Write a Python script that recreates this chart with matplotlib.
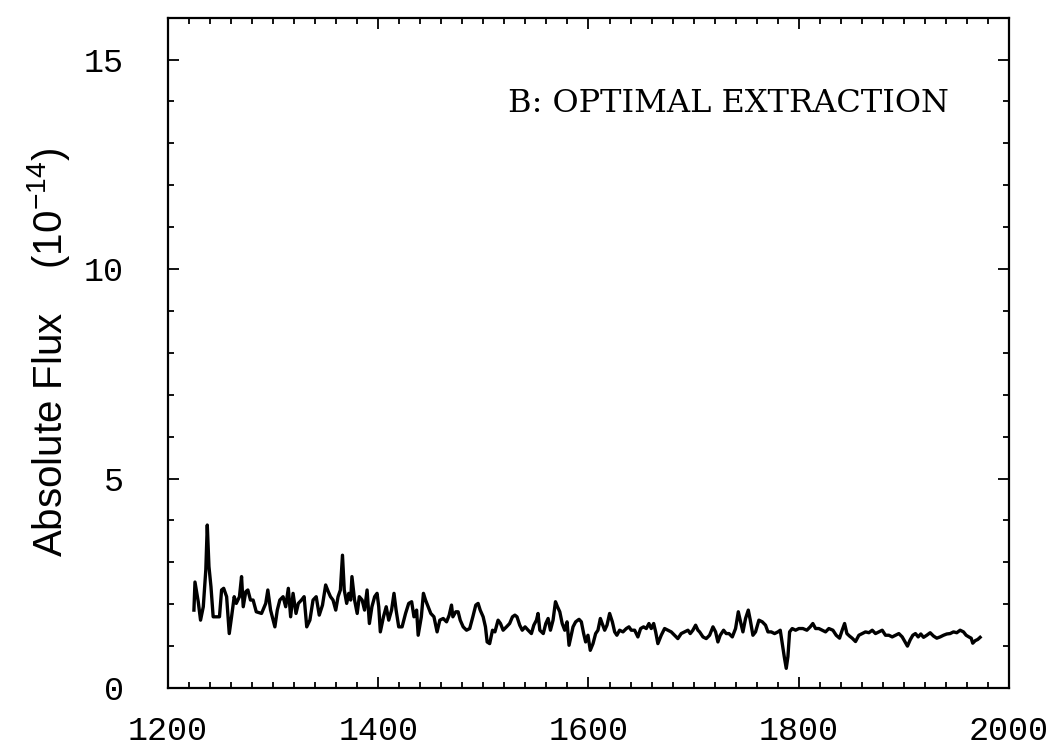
import matplotlib
matplotlib.use("Agg")
import matplotlib.pyplot as plt
from matplotlib.ticker import MultipleLocator

# wavelength (Angstrom) and flux (1e-14) of the extracted spectrum
wave = [
    1224.7, 1225.7, 1228.8, 1231.0, 1233.6, 1236.0, 1237.4, 1239.0, 1240.9, 1243.0,
    1246.0, 1249.0, 1251.0, 1253.0, 1255.8, 1258.3, 1260.5, 1263.0, 1265.0, 1268.0,
    1270.0, 1271.6, 1274.0, 1276.0, 1278.5, 1281.0, 1284.0, 1289.0, 1293.0, 1295.0,
    1297.6, 1301.7, 1304.0, 1306.4, 1309.5, 1312.0, 1314.5, 1316.7, 1319.0, 1321.8,
    1324.0, 1327.0, 1329.5, 1332.0,
    1335.0, 1338.0, 1341.0, 1343.9, 1347.0, 1350.0, 1352.5, 1354.6, 1357.0, 1359.6,
    1361.8, 1364.0, 1366.0, 1367.7, 1370.0, 1372.0, 1373.8, 1375.0, 1377.5, 1380.0,
    1382.0, 1384.7, 1387.0, 1389.4, 1391.6, 1394.0, 1396.6, 1398.9, 1400.5, 1402.0,
    1405.0, 1407.6, 1410.0, 1412.7, 1415.0, 1417.0, 1419.5, 1422.7, 1426.0, 1429.0,
    1431.8, 1434.0, 1436.5, 1438.0, 1441.0, 1443.0, 1445.0, 1447.5, 1450.0, 1453.0,
    1456.0,
    1458.6, 1461.8, 1465.0, 1467.5, 1469.7, 1471.0, 1473.8, 1476.0, 1478.0, 1480.8,
    1484.0, 1487.0, 1490.0, 1492.8, 1495.0, 1497.0, 1499.8, 1502.0, 1503.6, 1506.0,
    1508.7, 1511.0, 1514.0, 1516.3, 1518.8, 1522.0, 1525.0, 1527.7, 1530.0, 1532.0,
    1534.6, 1537.0, 1539.7, 1542.6, 1545.7, 1548.0, 1550.5, 1552.0, 1553.7, 1557.0,
    1559.4, 1561.6, 1563.8, 1566.3, 1568.6, 1570.5, 1572.7, 1575.0, 1577.4, 1579.6,
    1581.5,
    1585.3, 1587.8, 1591.0, 1593.2, 1595.4, 1597.3, 1599.5, 1601.7, 1604.3, 1606.8,
    1609.0, 1611.3, 1613.0, 1615.4, 1617.6, 1620.1, 1622.7, 1624.9, 1627.0, 1629.6,
    1632.8, 1636.0, 1638.5, 1640.7, 1643.9, 1647.0, 1649.6, 1652.4, 1655.0, 1657.5,
    1659.7, 1662.0, 1663.9, 1666.0, 1669.2, 1672.4, 1675.6, 1678.7, 1681.9, 1685.0,
    1688.2, 1691.4, 1694.6, 1696.8, 1699.3, 1701.9, 1704.1,
    1705.7, 1708.9, 1712.0, 1715.2, 1718.4, 1720.9, 1723.1, 1725.3, 1728.5, 1731.0,
    1733.6, 1736.8, 1739.9, 1742.5, 1745.0, 1746.9, 1749.4, 1752.0, 1753.9, 1756.4,
    1758.9, 1762.1, 1765.3, 1768.4, 1770.7, 1773.8, 1777.0, 1780.2, 1782.4, 1784.3,
    1786.2, 1788.1, 1789.7, 1791.3, 1793.8, 1797.0, 1800.1, 1803.9, 1807.7, 1810.9,
    1813.4, 1816.0, 1819.1, 1822.3, 1825.5, 1828.6,
    1832.5, 1835.6, 1838.8, 1841.3, 1843.6, 1845.8, 1848.3, 1850.8, 1854.0, 1857.2,
    1860.3, 1863.5, 1866.7, 1869.9, 1873.0, 1876.2, 1879.4, 1882.5, 1885.7, 1888.9,
    1892.0, 1895.2, 1898.4, 1900.9, 1903.4, 1906.0, 1908.5, 1911.0, 1913.6, 1916.1,
    1918.7, 1921.8, 1925.0, 1928.2, 1931.3, 1934.5, 1937.7, 1940.8, 1944.0, 1947.2,
    1950.3, 1953.5, 1956.7, 1959.2, 1961.8, 1964.0, 1965.5, 1967.8, 1970.3, 1972.5,
]
flux = [
    1.86, 2.53, 2.06, 1.62, 1.94, 2.82, 3.89, 2.90, 2.42, 1.70,
    1.70, 1.70, 2.34, 2.38, 2.18, 1.30, 1.70, 2.18, 2.02, 2.18,
    2.66, 1.94, 2.30, 2.34, 2.10, 2.10, 1.82, 1.78, 2.02, 2.34,
    1.86, 1.46, 1.86, 2.10, 2.18, 1.94, 2.38, 1.70, 2.26, 1.78,
    2.02, 2.10, 2.18, 1.46,
    1.62, 2.10, 2.18, 1.74, 1.98, 2.46, 2.30, 2.18, 2.10, 1.86,
    2.18, 2.34, 3.17, 2.34, 2.02, 2.26, 2.10, 2.66, 2.10, 1.78,
    2.18, 2.10, 1.86, 2.34, 1.54, 1.94, 2.18, 2.26, 1.94, 1.34,
    1.70, 1.94, 1.62, 1.86, 2.26, 1.86, 1.46, 1.46, 1.78, 2.02,
    2.06, 1.70, 1.86, 1.26, 1.70, 2.26, 2.10, 1.94, 1.78, 1.70,
    1.34,
    1.62, 1.66, 1.58, 1.74, 1.98, 1.70, 1.82, 1.82, 1.62, 1.46,
    1.38, 1.42, 1.70, 1.98, 2.02, 1.86, 1.70, 1.46, 1.10, 1.06,
    1.38, 1.34, 1.62, 1.54, 1.38, 1.46, 1.54, 1.70, 1.74, 1.70,
    1.50, 1.38, 1.46, 1.38, 1.30, 1.50, 1.62, 1.78, 1.38, 1.30,
    1.54, 1.66, 1.38, 1.62, 2.06, 1.94, 1.82, 1.54, 1.38, 1.58,
    1.02,
    1.46, 1.58, 1.64, 1.58, 1.30, 1.10, 1.26, 0.90, 1.06, 1.30,
    1.38, 1.66, 1.54, 1.38, 1.50, 1.78, 1.58, 1.34, 1.26, 1.38,
    1.34, 1.42, 1.46, 1.38, 1.38, 1.22, 1.42, 1.46, 1.42, 1.54,
    1.42, 1.54, 1.34, 1.06, 1.26, 1.42, 1.38, 1.34, 1.26, 1.18,
    1.30, 1.34, 1.38, 1.30, 1.38, 1.50, 1.38,
    1.34, 1.22, 1.18, 1.26, 1.46, 1.34, 1.10, 1.26, 1.38, 1.30,
    1.30, 1.22, 1.42, 1.82, 1.54, 1.34, 1.66, 1.86, 1.62, 1.26,
    1.34, 1.62, 1.58, 1.50, 1.34, 1.34, 1.30, 1.34, 1.38, 1.06,
    0.75, 0.47, 0.75, 1.34, 1.42, 1.38, 1.42, 1.42, 1.38, 1.46,
    1.54, 1.42, 1.42, 1.38, 1.34, 1.42,
    1.38, 1.26, 1.19, 1.38, 1.54, 1.30, 1.24, 1.19, 1.11, 1.26,
    1.30, 1.34, 1.32, 1.38, 1.30, 1.34, 1.38, 1.26, 1.26, 1.22,
    1.26, 1.30, 1.22, 1.11, 1.00, 1.15, 1.26, 1.30, 1.22, 1.29,
    1.21, 1.26, 1.32, 1.24, 1.19, 1.22, 1.26, 1.29, 1.30, 1.34,
    1.32, 1.38, 1.34, 1.26, 1.22, 1.19, 1.07, 1.13, 1.16, 1.21,
]

panel_label = "B: OPTIMAL EXTRACTION"
ylabel = r"Absolute Flux    (10$^{-14}$)"

plt.rcParams["mathtext.fontset"] = "custom"
plt.rcParams["mathtext.rm"] = "Liberation Sans"
plt.rcParams["mathtext.it"] = "Liberation Sans"

fig = plt.figure(figsize=(10.59, 7.49), dpi=100)
ax = fig.add_axes([0.1586, 0.0814, 0.7942, 0.895])

ax.plot(wave, flux, color="black", lw=2.4, solid_joinstyle="round")

ax.set_xlim(1200, 2000)
ax.set_ylim(0, 16)
ax.xaxis.set_major_locator(MultipleLocator(200))
ax.xaxis.set_minor_locator(MultipleLocator(20))
ax.yaxis.set_major_locator(MultipleLocator(5))
ax.yaxis.set_minor_locator(MultipleLocator(1))

ax.tick_params(which="both", direction="in", top=True, right=True, width=1.3,
               colors="black")
ax.tick_params(which="major", length=8)
ax.tick_params(which="minor", length=4)
ax.tick_params(axis="x", which="major", pad=20)
ax.tick_params(axis="y", which="major", pad=32)
for lab in ax.get_xticklabels() + ax.get_yticklabels():
    lab.set_fontfamily("Liberation Mono")
    lab.set_fontsize(24)

for sp in ax.spines.values():
    sp.set_linewidth(1.6)

ax.set_ylabel(ylabel, fontsize=29, family="Liberation Sans", labelpad=8)

ax.text(1523, 13.96, panel_label, ha="left", va="center",
        fontsize=23, family="DejaVu Serif")

fig.savefig("out.png", dpi=100)
